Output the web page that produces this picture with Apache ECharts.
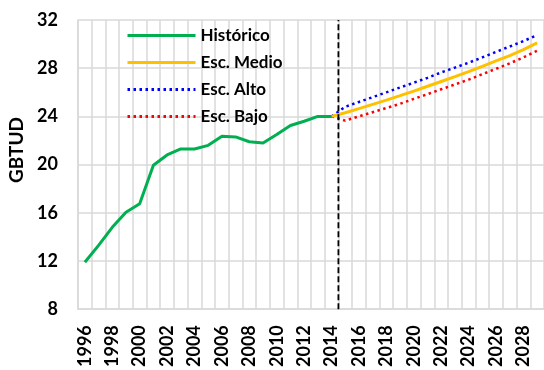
<!DOCTYPE html>
<html><head><meta charset="utf-8">
<script src="https://cdn.jsdelivr.net/npm/echarts@6/dist/echarts.min.js"></script>
<style>html,body{margin:0;padding:0;background:#fff}#c{width:544px;height:370px}</style>
</head><body><div id="c"></div>
<script>
const years = [];
for (let y = 1996; y <= 2029; y++) years.push(String(y));
const historico = [11.9,13.3,14.8,16.05,16.75,19.95,20.8,21.3,21.3,21.6,22.35,22.3,21.9,21.8,22.5,23.25,23.6,24.0,24.0];
const projYears = ['2014','2015','2016','2017','2018','2019','2020','2021','2022','2023','2024','2025','2026','2027','2028','2029'];
const escMedio = [24.0,24.3,24.65,25.0,25.35,25.72,26.1,26.5,26.9,27.3,27.72,28.15,28.6,29.05,29.55,30.1];
const escAlto  = [24.0,24.8,25.2,25.6,26.0,26.4,26.8,27.2,27.65,28.05,28.45,28.9,29.35,29.8,30.25,30.75];
const escBajo  = [24.0,23.65,24.0,24.35,24.7,25.05,25.45,25.85,26.25,26.65,27.05,27.5,27.95,28.4,28.9,29.45];
const yTicks = [8,12,16,20,24,28,32];
const lastHistYear = '2014';

function fullSeries(yrs, vals){
  const m = {}; yrs.forEach((y,i)=>m[y]=vals[i]);
  return years.map(y => (y in m) ? m[y] : null);
}
const histFull = historico.concat(new Array(years.length - historico.length).fill(null));
const splitPos = years.indexOf(lastHistYear) + 1;

const FONT = 'Lato';
const W = 'bold';
const chart = echarts.init(document.getElementById('c'), null, {renderer:'canvas'});
chart.setOption({
  animation:false,
  backgroundColor:'#fff',
  textStyle:{fontFamily:FONT},
  grid:{left:78, right:0, top:20, bottom:57, containLabel:false},
  legend:{
    orient:'vertical', left:121, top:22, itemWidth:68, itemHeight:14, itemGap:10,
    itemStyle:{opacity:0},
    lineStyle:{width:3},
    textStyle:{fontFamily:FONT, fontWeight:W, fontSize:17, color:'#000', lineHeight:15},
    data:['Histórico','Esc. Medio','Esc. Alto','Esc. Bajo']
  },
  xAxis:[{
    type:'category', data:years, boundaryGap:true,
    axisLine:{show:true, lineStyle:{color:'#d9d9d9', width:1.5}},
    axisTick:{show:false},
    splitLine:{show:true, interval:0, lineStyle:{color:'#d9d9d9', width:1.5}},
    axisLabel:{interval:1, rotate:90, margin:16, fontFamily:FONT, fontWeight:W, fontSize:18, color:'#000'}
  },{
    type:'value', min:0, max:years.length, show:false
  }],
  yAxis:{
    type:'value', min:yTicks[0], max:yTicks[yTicks.length-1], interval:4,
    axisLine:{show:true, lineStyle:{color:'#d9d9d9', width:1.5}},
    axisTick:{show:false},
    splitLine:{show:true, lineStyle:{color:'#d9d9d9', width:1.5}},
    axisLabel:{margin:20, fontFamily:FONT, fontWeight:W, fontSize:18, color:'#000'}
  },
  graphic:[{
    type:'text', left:7, top:117, rotation:Math.PI/2,
    style:{text:'GBTUD', font:'bold 19px Lato', fill:'#000'}
  }],
  series:[
    {name:'Histórico', type:'line', data:histFull, symbol:'none', connectNulls:false,
     lineStyle:{color:'#00b050', width:3}, itemStyle:{color:'#00b050'}, z:3},
    {name:'Esc. Medio', type:'line', data:fullSeries(projYears, escMedio), symbol:'none',
     lineStyle:{color:'#ffc000', width:3}, itemStyle:{color:'#ffc000'}, z:4},
    {name:'Esc. Alto', type:'line', data:fullSeries(projYears, escAlto), symbol:'none',
     lineStyle:{color:'#0000ff', width:2.5, type:[2.5,3.5]}, itemStyle:{color:'#0000ff'}, z:3},
    {name:'Esc. Bajo', type:'line', data:fullSeries(projYears, escBajo), symbol:'none',
     lineStyle:{color:'#ff0000', width:2.5, type:[2.5,3.5]}, itemStyle:{color:'#ff0000'}, z:3},
    {name:'split', type:'line', xAxisIndex:1, symbol:'none', silent:true,
     data:[[splitPos, yTicks[0]],[splitPos, yTicks[yTicks.length-1]]],
     lineStyle:{color:'#000', width:1.8, type:[6,3]}, z:6}
  ]
});
</script></body></html>
